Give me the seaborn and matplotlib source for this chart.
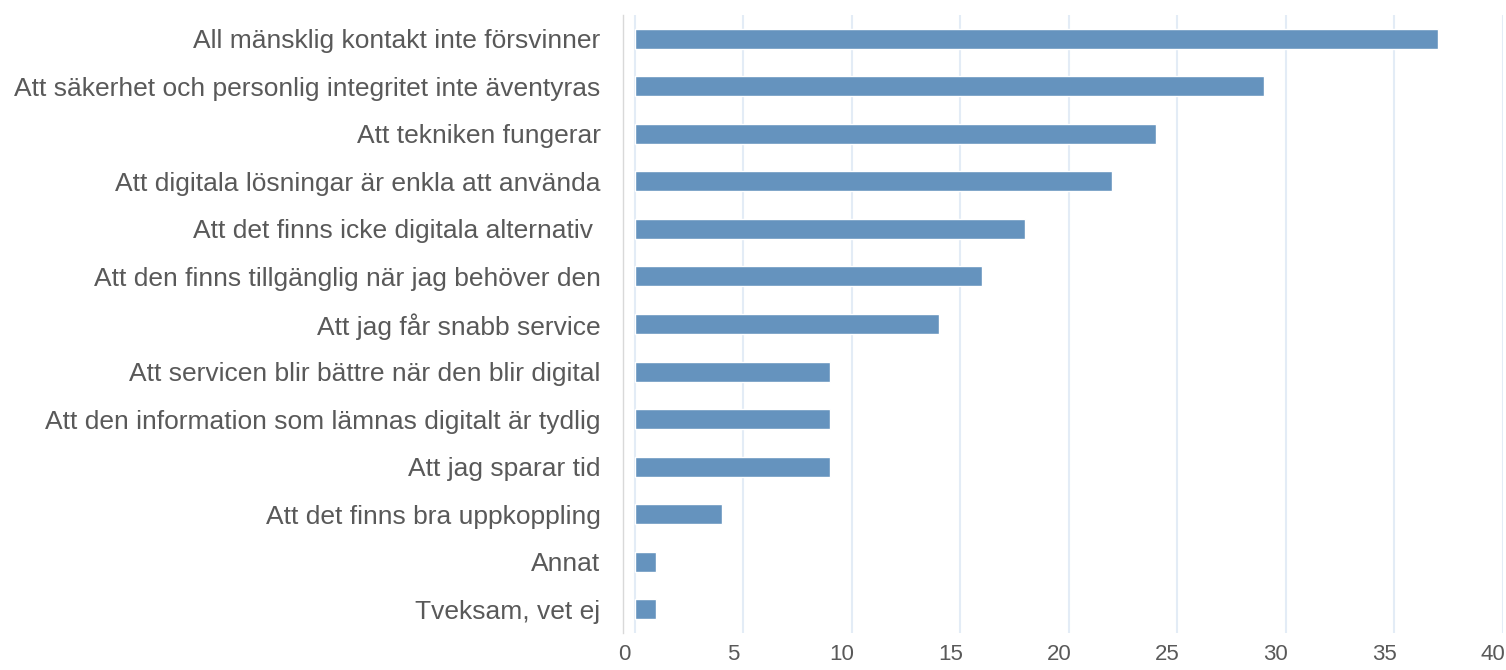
import matplotlib
matplotlib.use('Agg')
import matplotlib.pyplot as plt
import matplotlib.transforms as mtransforms
import seaborn as sns
import pandas as pd

# Data
categories = [
    'All mänsklig kontakt inte försvinner',
    'Att säkerhet och personlig integritet inte äventyras',
    'Att tekniken fungerar',
    'Att digitala lösningar är enkla att använda',
    'Att det finns icke digitala alternativ ',
    'Att den finns tillgänglig när jag behöver den',
    'Att jag får snabb service',
    'Att servicen blir bättre när den blir digital',
    'Att den information som lämnas digitalt är tydlig',
    'Att jag sparar tid',
    'Att det finns bra uppkoppling',
    'Annat',
    'Tveksam, vet ej',
]
values = [37, 29, 24, 22, 18, 16, 14, 9, 9, 9, 4, 1, 1]
x_ticks = [0, 5, 10, 15, 20, 25, 30, 35, 40]

df = pd.DataFrame({'category': categories, 'value': values})

sns.set_style('white')
plt.rcParams['font.family'] = ['Liberation Sans', 'DejaVu Sans']

fig = plt.figure(figsize=(15.06, 6.7), dpi=100)
ax = fig.add_axes([0.4135, 0.055, 0.5845, 0.923])

sns.barplot(data=df, y='category', x='value', orient='h', color='#6593BE',
            saturation=1, width=0.42, ax=ax)

ax.set_xlim(-0.55, 40)
ax.set_ylim(12.5, -0.5)
ax.set_xticks(x_ticks)
ax.xaxis.grid(True, color='#E3ECF6', linewidth=1.5)
ax.set_axisbelow(True)
for s in ['top', 'right', 'bottom']:
    ax.spines[s].set_visible(False)
ax.spines['left'].set_color('#D9D9D9')
ax.spines['left'].set_linewidth(1)

ax.set_xlabel('')
ax.set_ylabel('')
ax.tick_params(axis='y', length=0, pad=16, labelsize=19, labelcolor='#595959')
ax.tick_params(axis='x', length=0, pad=8, labelsize=16, labelcolor='#595959')

# Excel-style: numbers sit slightly left of their gridlines
offset = mtransforms.ScaledTranslation(-10 / 100, 0, fig.dpi_scale_trans)
for lbl in ax.get_xticklabels():
    lbl.set_transform(lbl.get_transform() + offset)

plt.savefig('out.png', dpi=100)
